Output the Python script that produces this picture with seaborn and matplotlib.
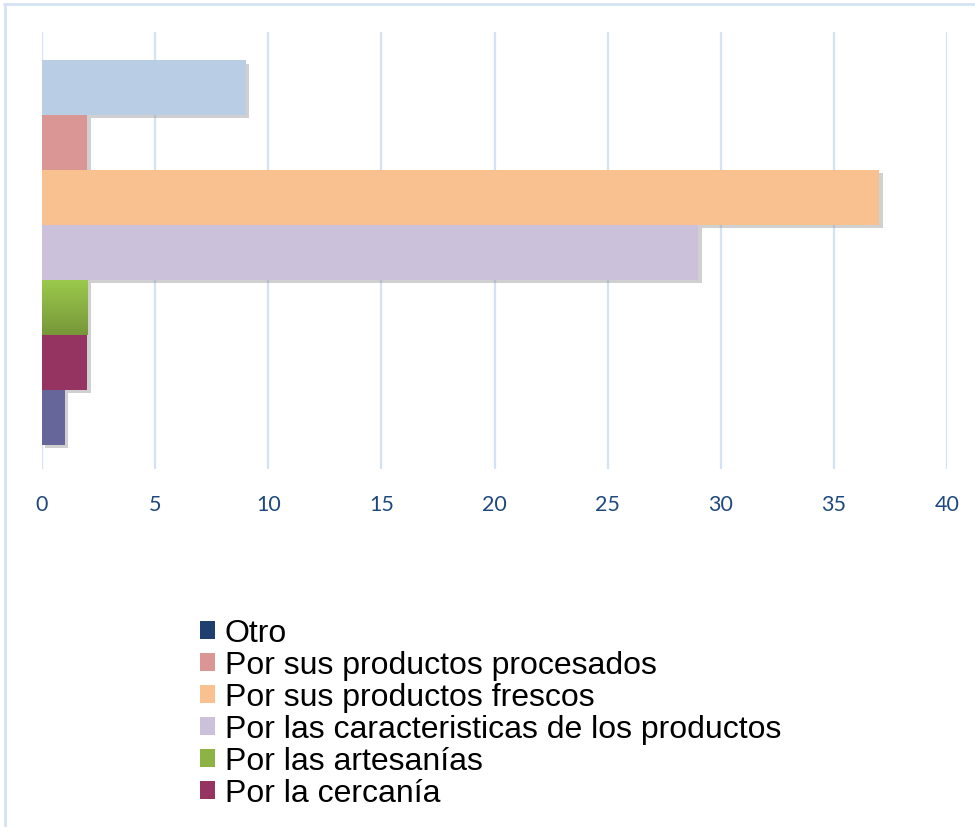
import numpy as np
import pandas as pd
import seaborn as sns
import matplotlib
matplotlib.use("Agg")
import matplotlib.pyplot as plt
import matplotlib.patheffects as pe
from matplotlib.patches import Patch
from matplotlib.lines import Line2D
from matplotlib.colors import LinearSegmentedColormap

# bars from top to bottom
categorias = ["Sin dato", "Por sus productos procesados", "Por sus productos frescos",
              "Por las caracteristicas de los productos", "Por las artesanías",
              "Por la cercanía", "Otro (barra)"]
valores = [9, 2, 37, 29, 2, 2, 1]
colores_barras = ["#B9CDE5", "#DA9694", "#F9C090", "#CCC1DA", "#8DB344", "#963461", "#66669A"]

# legend entries
leyenda_labels = ["Otro", "Por sus productos procesados", "Por sus productos frescos",
                  "Por las caracteristicas de los productos", "Por las artesanías", "Por la cercanía"]
leyenda_colores = ["#1F3F6E", "#DA9694", "#F9C090", "#CCC1DA", "#8DB344", "#963461"]

ticks_x = [0, 5, 10, 15, 20, 25, 30, 35, 40]

df = pd.DataFrame({"categoria": categorias, "valor": valores})

sns.set_style("white")
fig = plt.figure(figsize=(9.75, 8.28), dpi=100)
ax = fig.add_axes([42/975, 1-470/828, (947-42)/975, (470-33)/828])

sns.barplot(data=df, y="categoria", x="valor", hue="categoria", palette=colores_barras,
            orient="h", width=1.0, legend=False, ax=ax, saturation=1)

shadow = [pe.SimplePatchShadow(offset=(2.5, -2.5), shadow_rgbFace="#8a8a8a", alpha=0.4), pe.Normal()]
for p in ax.patches:
    p.set_linewidth(0)
    p.set_path_effects(shadow)
    p.set_zorder(3)

# green gradient on artesanias bar
green = ax.patches[4]
bb = green.get_bbox()
grad = np.linspace(0, 1, 100).reshape(-1, 1)
cmap = LinearSegmentedColormap.from_list("g", ["#9BC94B", "#77973A"])
im = ax.imshow(grad, cmap=cmap, aspect="auto", extent=[bb.x0, bb.x1, bb.y1, bb.y0], zorder=3.5)
im.set_clip_path(green)

ax.set_xlim(0, 40)
ax.set_ylim(6.94, -1.01)
ax.set_xticks(ticks_x)
ax.set_yticks([])
ax.set_xlabel("")
ax.set_ylabel("")
ax.grid(axis="x", color="#D5E2F3", linewidth=1.6, zorder=0)
ax.set_axisbelow(True)
for s in ax.spines.values():
    s.set_visible(False)
ax.tick_params(axis="x", length=0, pad=18, labelsize=15.5, labelcolor="#1F497D")
for t in ax.get_xticklabels():
    t.set_fontfamily("Lato")

# chart border (top and left)
fig.add_artist(Line2D([4/975, 1], [1-4.5/828, 1-4.5/828], color="#D5E2F3", lw=2))
fig.add_artist(Line2D([4.5/975, 4.5/975], [0, 1-4.5/828], color="#D5E2F3", lw=2))

handles = [Patch(facecolor=c, edgecolor="none") for c in leyenda_colores]
leg = fig.legend(handles, leyenda_labels, loc="upper left", bbox_to_anchor=(200/975, 1-619/828),
                 frameon=False, borderpad=0, borderaxespad=0, handlelength=0.48, handleheight=0.48,
                 handletextpad=0.3, labelspacing=0.065, prop={"family": "Liberation Sans", "size": 23})
for t in leg.get_texts():
    t.set_color("black")

fig.savefig("out.png", dpi=100, facecolor="white")
